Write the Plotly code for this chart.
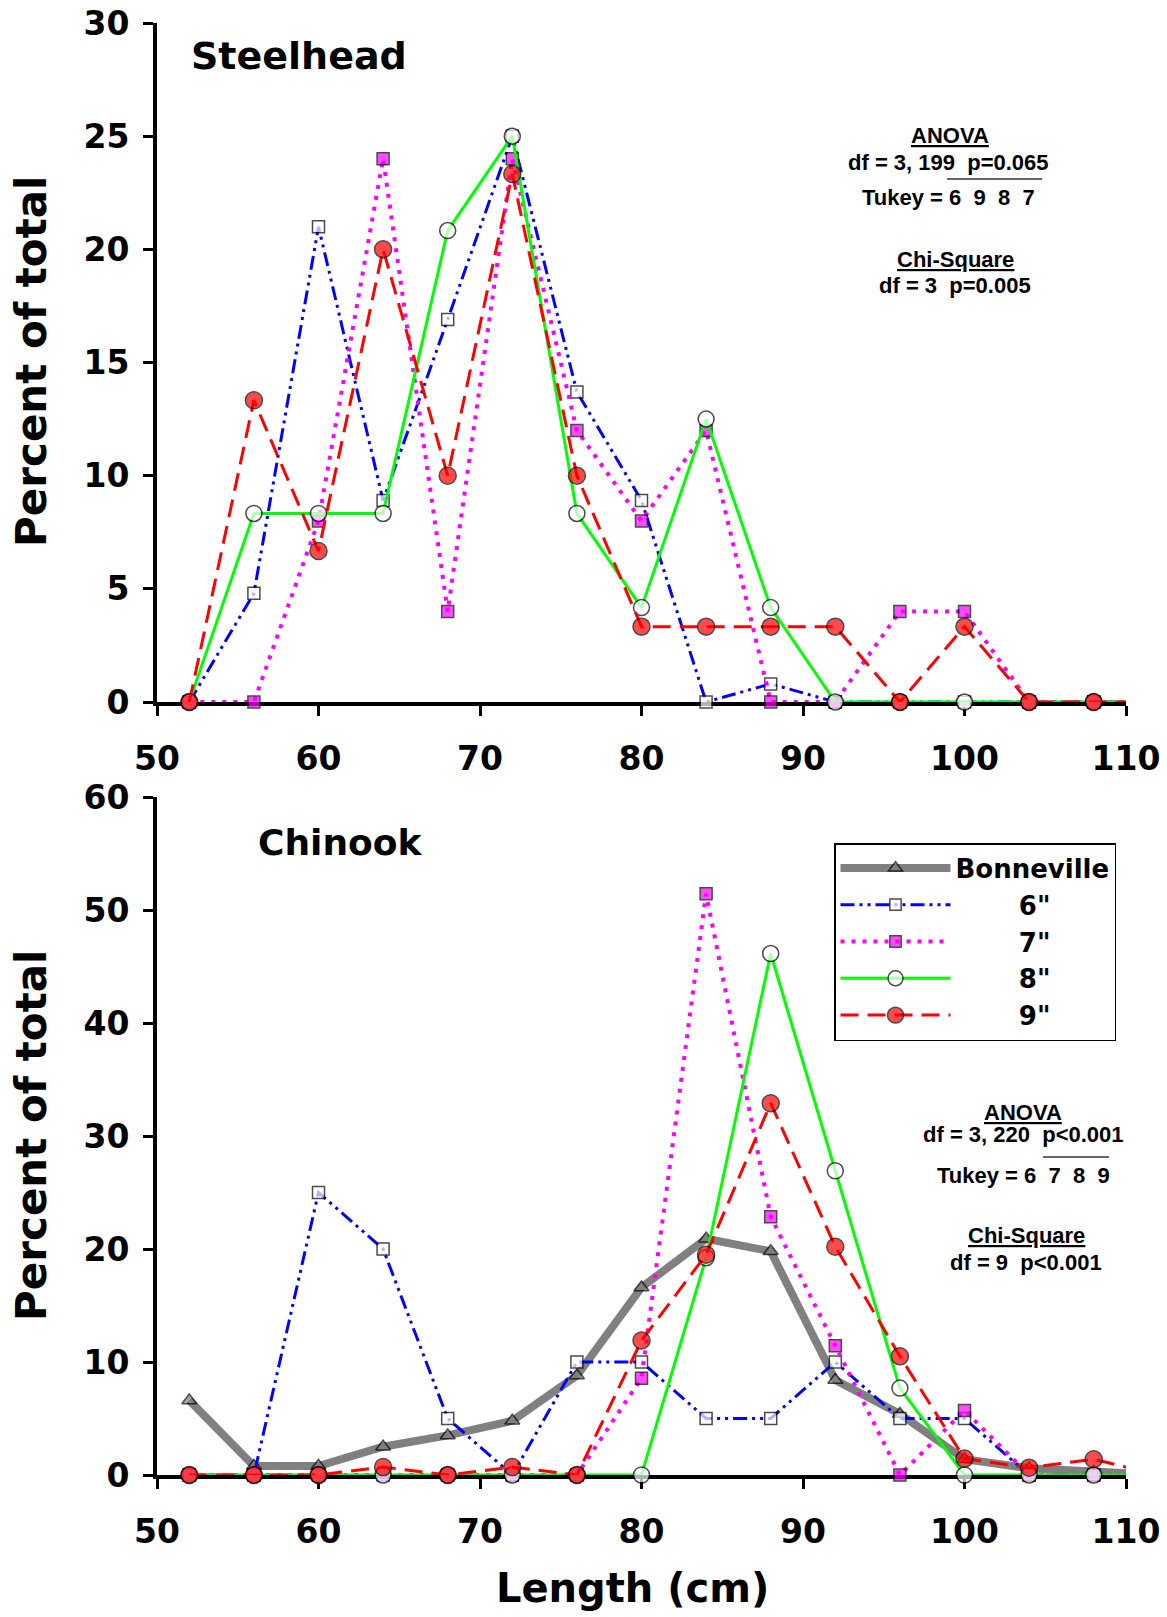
import plotly.graph_objects as go

# ---------------- data ----------------
lengths = [52, 56, 60, 64, 68, 72, 76, 80, 84, 88, 92, 96, 100, 104, 108, 112]

# Steelhead
sh_6 = [0, 4.8, 21.0, 8.9, 16.9, 25.0, 13.7, 8.9, 0, 0.8, 0, 0, 0, 0, 0, 0]
sh_7 = [0, 0, 8.0, 24.0, 4.0, 24.0, 12.0, 8.0, 12.0, 0, 0, 4.0, 4.0, 0, 0, 0]
sh_8 = [0, 8.33, 8.33, 8.33, 20.83, 25.0, 8.33, 4.17, 12.5, 4.17, 0, 0, 0, 0, 0, 0]
sh_9 = [0, 13.33, 6.67, 20.0, 10.0, 23.33, 10.0, 3.33, 3.33, 3.33, 3.33, 0, 3.33, 0, 0, 0]

# Chinook
ch_bonn = [6.6, 0.8, 0.8, 2.5, 3.5, 4.8, 8.8, 16.6, 20.9, 19.8, 8.4, 5.4, 1.4, 0.6, 0.3, 0]
ch_6 = [0, 0, 25.0, 20.0, 5.0, 0, 10.0, 10.0, 5.0, 5.0, 10.0, 5.0, 5.0, 0, 0, 0]
ch_7 = [0, 0, 0, 0, 0, 0, 0, 8.57, 51.43, 22.86, 11.43, 0, 5.71, 0, 0, 0]
ch_8 = [0, 0, 0, 0, 0, 0, 0, 0, 19.23, 46.15, 26.92, 7.69, 0, 0, 0, 0]
ch_9 = [0, 0, 0, 0.7, 0, 0.7, 0, 11.9, 19.5, 32.9, 20.2, 10.5, 1.45, 0.65, 1.4, 0]

x_ticks = [50, 60, 70, 80, 90, 100, 110]
sh_y_ticks = [0, 5, 10, 15, 20, 25, 30]
ch_y_ticks = [0, 10, 20, 30, 40, 50, 60]

names = ["Bonneville", "6\"", "7\"", "8\"", "9\""]

# ---------------- layout geometry ----------------
W, H = 1167, 1617
L, R, T, B = 157, 1126, 23, 1475   # plot area in pixels


def px(xp):
    return (xp - L) / (R - L)


def py(yp):
    return (B - yp) / (B - T)


top_dom = [py(702), 1.0]
bot_dom = [0.0, py(797)]

COMIC = "DejaVu Sans"
ARIAL = "Liberation Sans"

fig = go.Figure()


def msizes(s):
    return [s if v <= 110 else 0 for v in lengths]


styles = {
    "Bonneville": dict(line=dict(color="#808080", width=8),
                       marker=dict(symbol="triangle-up", color="#808080", size=13,
                                   line=dict(color="black", width=1.5))),
    "6\"": dict(line=dict(color="#0000FF", width=3, dash="14px,5px,3px,5px,3px,5px"),
                marker=dict(symbol="square", color="white", size=12,
                            line=dict(color="black", width=1.5))),
    "7\"": dict(line=dict(color="#FF00FF", width=4, dash="4px,7px"),
                marker=dict(symbol="square", color="#FF00FF", size=12,
                            line=dict(color="black", width=1.5))),
    "8\"": dict(line=dict(color="#00FF00", width=3),
                marker=dict(symbol="circle", color="white", size=16,
                            line=dict(color="black", width=1.5))),
    "9\"": dict(line=dict(color="#FF0000", width=3, dash="18px,9px"),
                marker=dict(symbol="circle", color="#FF0000", size=17,
                            line=dict(color="black", width=1.5))),
}

legend_labels = {
    "Bonneville": "Bonneville",
    "6\"": "\u00a0" * 7 + "6\"",
    "7\"": "\u00a0" * 7 + "7\"",
    "8\"": "\u00a0" * 7 + "8\"",
    "9\"": "\u00a0" * 7 + "9\"",
}

# top panel (Steelhead)
for nm, ys in zip(names[1:], [sh_6, sh_7, sh_8, sh_9]):
    st = styles[nm]
    mk = dict(st["marker"])
    mk["size"] = msizes(mk["size"])
    fig.add_trace(go.Scatter(x=lengths, y=ys, mode="lines+markers", name=nm,
                             line=st["line"], marker=mk, showlegend=False,
                             cliponaxis=False, xaxis="x", yaxis="y"))

# bottom panel (Chinook)
for i, (nm, ys) in enumerate(zip(names, [ch_bonn, ch_6, ch_7, ch_8, ch_9])):
    st = styles[nm]
    mk = dict(st["marker"])
    mk["size"] = msizes(mk["size"])
    fig.add_trace(go.Scatter(x=lengths, y=ys, mode="lines+markers",
                             name=legend_labels[nm], legendgroup=nm, legendrank=i + 1,
                             line=st["line"], marker=mk, showlegend=True,
                             cliponaxis=False, xaxis="x2", yaxis="y2"))

axis_common = dict(showline=True, linewidth=4, linecolor="black", ticks="outside",
                   ticklen=10, tickwidth=3, tickcolor="black", showgrid=False,
                   zeroline=False, layer="below traces", automargin=False,
                   tickfont=dict(family=COMIC, size=33, color="black", weight="bold"))

fig.update_layout(
    template="none",
    width=W, height=H,
    margin=dict(l=L, r=W - R, t=T, b=H - B, pad=0, autoexpand=False),
    paper_bgcolor="white", plot_bgcolor="white",
    xaxis=dict(domain=[0, 1], range=[50, 110], tickvals=x_ticks, anchor="y",
               ticklabelstandoff=14, **axis_common),
    yaxis=dict(domain=top_dom, range=[0, 30], tickvals=sh_y_ticks, anchor="x",
               ticklabelstandoff=7, **axis_common),
    xaxis2=dict(domain=[0, 1], range=[50, 110], tickvals=x_ticks, anchor="y2",
                ticklabelstandoff=14, **axis_common),
    yaxis2=dict(domain=bot_dom, range=[0, 60], tickvals=ch_y_ticks, anchor="x2",
                ticklabelstandoff=7, **axis_common),
    legend=dict(x=px(834), y=py(843), xanchor="left", yanchor="top",
                bordercolor="black", borderwidth=1.5, bgcolor="white",
                font=dict(family=COMIC, size=26, color="black", weight="bold"),
                itemwidth=110, tracegroupgap=1, traceorder="normal"),
)

ann = []


def add_text(text, x, y, size, family=COMIC, xanchor="center", underline=False, angle=0):
    f = dict(family=family, size=size, color="black", weight="bold")
    if underline:
        f["lineposition"] = "under"
    ann.append(dict(text=text, x=px(x), y=py(y), xref="paper", yref="paper",
                    xanchor=xanchor, yanchor="middle", showarrow=False,
                    textangle=angle, font=f))


add_text("Steelhead", 189, 56, 38, xanchor="left")
add_text("Chinook", 256, 842, 36, xanchor="left")
add_text("Percent of total", 31, 362, 42, angle=-90)
add_text("Percent of total", 31, 1136, 42, angle=-90)
add_text("Length (cm)", 632, 1588, 40)

# statistics, top
add_text("ANOVA", 950, 135, 22, family=ARIAL, underline=True)
add_text("df = 3, 199\u00a0\u00a0p=0.065", 948, 162, 22, family=ARIAL)
add_text("Tukey = 6\u00a0\u00a09\u00a0\u00a08\u00a0\u00a07", 948, 197, 22, family=ARIAL)
add_text("Chi-Square", 955, 259, 22, family=ARIAL, underline=True)
add_text("df = 3\u00a0\u00a0p=0.005", 955, 285, 22, family=ARIAL)

# statistics, bottom
add_text("ANOVA", 1023, 1112, 22, family=ARIAL, underline=True)
add_text("df = 3, 220\u00a0\u00a0p<0.001", 1023, 1134, 22, family=ARIAL)
add_text("Tukey = 6\u00a0\u00a07\u00a0\u00a08\u00a0\u00a09", 1023, 1175, 22, family=ARIAL)
add_text("Chi-Square", 1026, 1235, 22, family=ARIAL, underline=True)
add_text("df = 9\u00a0\u00a0p<0.001", 1026, 1262, 22, family=ARIAL)

fig.update_layout(annotations=ann)

shapes = [
    dict(type="line", xref="paper", yref="paper", x0=px(947), x1=px(1042),
         y0=py(179), y1=py(179), line=dict(color="#333333", width=1.5)),
    dict(type="line", xref="paper", yref="paper", x0=px(1043), x1=px(1109),
         y0=py(1157), y1=py(1157), line=dict(color="#333333", width=1.5)),
]
fig.update_layout(shapes=shapes)

fig.write_html("out.html",
               config={"displayModeBar": False},
               post_script="document.body.style.margin='0';"
                           "document.body.style.overflow='hidden';")
